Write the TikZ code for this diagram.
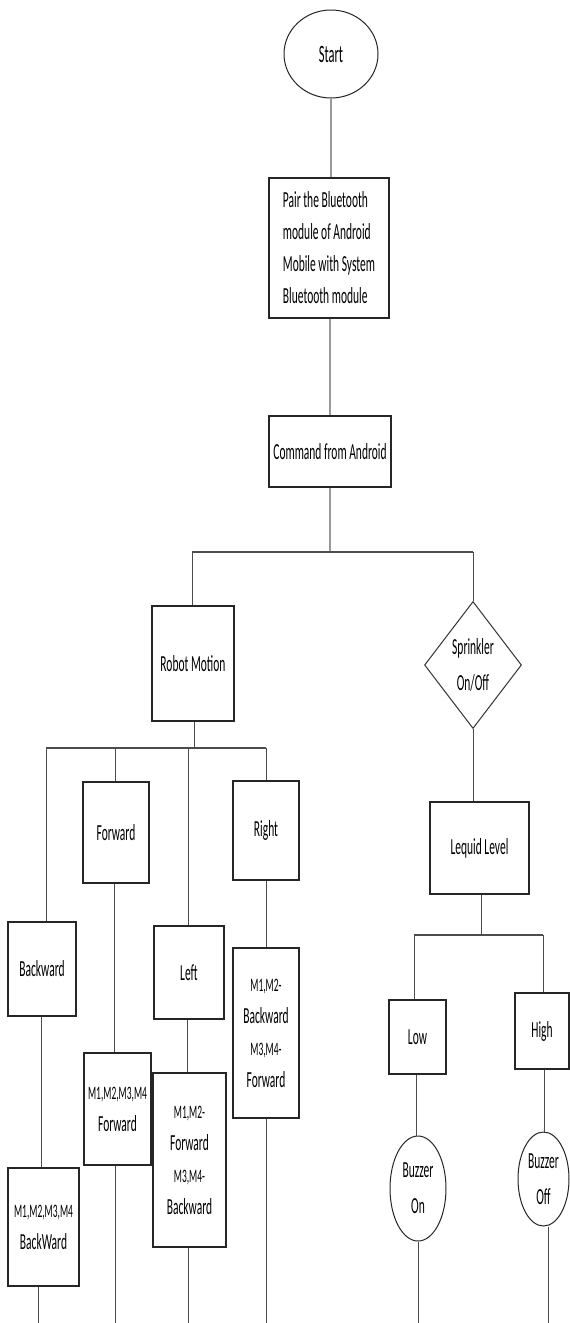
\documentclass[tikz,border=0pt]{standalone}
\usepackage{fontspec}
\setmainfont[FakeStretch=0.5]{Carlito}
\usetikzlibrary{shapes.geometric}
\newcommand\mainf{\fontsize{23}{32}\selectfont}
\newcommand\roundf{\fontsize{23}{36}\selectfont}
\newcommand\smallf{\fontsize{19}{32}\selectfont}
\begin{document}
\begin{tikzpicture}[x=1pt,y=-1pt,
  box/.style={draw=black!85, line width=1.4pt, rectangle, inner sep=0pt, align=center, font=\mainf, text=black},
  oval/.style={draw=black!85, line width=1pt, ellipse, inner sep=0pt, align=center, font=\roundf, text=black},
  dia/.style={draw=black!80, line width=1pt, diamond, shape aspect=0.76, inner sep=0pt, align=center, font=\roundf, text=black},
  conn/.style={draw=black!70, line width=1pt},
  topconn/.style={draw=black!40, line width=1.3pt}]
\useasboundingbox (0,0) rectangle (570,1323);
\fill[white] (0,0) rectangle (570,1323);

% nodes
\node[oval, minimum width=94, minimum height=88, font=\fontsize{25}{36}\selectfont] (start) at (331,54) {Start};
\node[box, minimum width=120, minimum height=140, align=left] (pair) at (329,248)
  {Pair the Bluetooth\\module of Android\\Mobile with System\\Bluetooth module};
\node[box, minimum width=122, minimum height=71] (cmd) at (330,451.5) {Command from Android};
\node[box, minimum width=82, minimum height=115] (robot) at (193,663.5) {Robot Motion};
\node[dia, minimum width=97, minimum height=127] (sprink) at (473,665) {Sprinkler\\On/Off};
\node[box, minimum width=66, minimum height=101] (fwd) at (116,832.5) {Forward};
\node[box, minimum width=66, minimum height=99] (right) at (266,830.5) {Right};
\node[box, minimum width=68, minimum height=94] (bwd) at (42,969) {Backward};
\node[box, minimum width=70, minimum height=93] (left) at (189,972.5) {Left};
\node[box, minimum width=71, minimum height=118] (mbwd) at (43.5,1227) {{\smallf M1,M2,M3,M4}\\BackWard};
\node[box, minimum width=67, minimum height=112] (mfwd) at (117.5,1109) {{\smallf M1,M2,M3,M4}\\Forward};
\node[box, minimum width=73, minimum height=174] (mleft) at (189.5,1160) {{\smallf M1,M2-}\\Forward\\{\smallf M3,M4-}\\Backward};
\node[box, minimum width=66, minimum height=170] (mright) at (266,1033) {{\smallf M1,M2-}\\Backward\\{\smallf M3,M4-}\\Forward};
\node[box, minimum width=99, minimum height=92] (lequid) at (479.5,848) {Lequid Level};
\node[box, minimum width=57, minimum height=74] (low) at (417.5,1037) {Low};
\node[box, minimum width=54, minimum height=76] (high) at (542,1031) {High};
\node[oval, minimum width=56, minimum height=105] (bon) at (418,1188.5) {Buzzer\\On};
\node[oval, minimum width=51, minimum height=94] (boff) at (543.5,1179) {Buzzer\\Off};

% junction coordinates
\coordinate (j1) at (330,552);
\coordinate (jL) at (192,552);
\coordinate (jR) at (473,552);
\coordinate (k0) at (194,748);
\coordinate (k1) at (46,748);
\coordinate (k2) at (115,748);
\coordinate (k3) at (188,748);
\coordinate (k4) at (266,748);
\coordinate (m0) at (481,935);
\coordinate (m1) at (414,935);
\coordinate (m2) at (543,935);
% bottom ends
\coordinate (e1) at (38,1323);
\coordinate (e2) at (115,1323);
\coordinate (e3) at (188,1323);
\coordinate (e4) at (266,1323);
\coordinate (e5) at (418,1323);
\coordinate (e6) at (548,1323);
% intermediate line x positions
\coordinate (v1) at (41,0);
\coordinate (v2) at (114,0);
\coordinate (v3) at (187,0);
\coordinate (v4) at (473,0);
\coordinate (v5) at (416,0);
\coordinate (v6) at (544,0);

% top connectors
\draw[topconn] (start.south) -- (start.south |- pair.north);
\draw[topconn] (pair.south -| j1) -- (j1 |- cmd.north);
\draw[topconn] (j1 |- cmd.south) -- (j1);

% first split
\draw[conn, line width=1.4pt] (jL) -- (jR);
\draw[conn] (jL) -- (jL |- robot.north);
\draw[conn] (jR) -- (jR |- sprink.north);

% robot motion split
\draw[conn] (k0 |- robot.south) -- (k0);
\draw[conn, line width=1.4pt] (k1) -- (k4);
\draw[conn] (k1) -- (k1 |- bwd.north);
\draw[conn] (k2) -- (k2 |- fwd.north);
\draw[conn] (k3) -- (k3 |- left.north);
\draw[conn] (k4) -- (k4 |- right.north);

\draw[conn] (v1 |- bwd.south) -- (v1 |- mbwd.north);
\draw[conn] (v2 |- fwd.south) -- (v2 |- mfwd.north);
\draw[conn] (v3 |- left.south) -- (v3 |- mleft.north);
\draw[conn] (k4 |- right.south) -- (k4 |- mright.north);

\draw[conn] (e1 |- mbwd.south) -- (e1);
\draw[conn] (e2 |- mfwd.south) -- (e2);
\draw[conn] (e3 |- mleft.south) -- (e3);
\draw[conn] (e4 |- mright.south) -- (e4);

% sprinkler branch
\draw[conn] (v4 |- sprink.south) -- (v4 |- lequid.north);
\draw[conn] (m0 |- lequid.south) -- (m0);
\draw[conn, line width=1.4pt] (m1) -- (m2);
\draw[conn] (m1) -- (m1 |- low.north);
\draw[conn] (m2) -- (m2 |- high.north);
\draw[conn] (v5 |- low.south) -- (v5 |- bon.north);
\draw[conn] (v6 |- high.south) -- (v6 |- boff.north);
\draw[conn] (e5 |- bon.south) -- (e5);
\draw[conn] (e6 |- boff.south) -- (e6);
\end{tikzpicture}
\end{document}
